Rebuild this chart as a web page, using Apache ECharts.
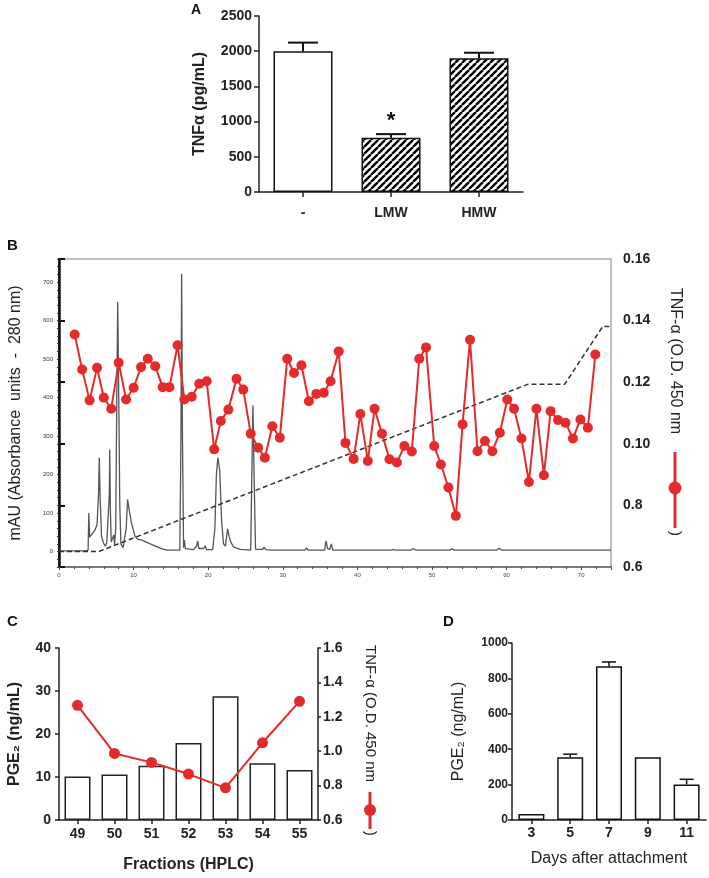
<!DOCTYPE html>
<html>
<head>
<meta charset="utf-8">
<script src="https://cdn.jsdelivr.net/npm/echarts@6/dist/echarts.min.js"></script>
<style>html,body{margin:0;padding:0;background:#fff;}#chart{width:709px;height:878px;}</style>
</head>
<body>
<div id="chart"></div>
<script>
// ---------- Panel A ----------
const panelACategories = ['-', 'LMW', 'HMW'];
const panelAValues = [2000, 770, 1900];
const panelAErrors = [122, 52, 78];
const panelASignificance = ['', '*', ''];

// ---------- Panel B ----------
const hplcTimes = [2.1,3.1,4.1,5.1,6.0,7.0,8.0,9.0,10.0,11.0,11.9,12.9,13.9,14.8,15.9,16.8,17.8,18.8,19.8,20.8,21.7,22.7,23.8,24.7,25.7,26.7,27.6,28.6,29.6,30.6,31.5,32.5,33.5,34.5,35.5,36.4,37.5,38.4,39.5,40.4,41.4,42.3,43.3,44.3,45.3,46.3,47.3,48.3,49.2,50.3,51.2,52.2,53.2,54.1,55.1,56.1,57.1,58.1,59.1,60.1,61.0,62.0,63.0,64.0,65.0,65.9,66.9,67.9,68.9,69.9,70.9,71.9];
const tnfOD = [0.1355,0.1241,0.1141,0.1247,0.115,0.1114,0.1263,0.1144,0.1182,0.1249,0.1276,0.1252,0.1184,0.1184,0.132,0.1144,0.1153,0.1195,0.1203,0.0982,0.1074,0.1111,0.1211,0.1176,0.1033,0.0987,0.0955,0.1057,0.102,0.1276,0.123,0.1255,0.1138,0.1162,0.1166,0.1203,0.13,0.1003,0.0951,0.1097,0.0944,0.1114,0.1033,0.095,0.0939,0.0993,0.0975,0.1276,0.1313,0.0993,0.0933,0.0858,0.0766,0.1063,0.1338,0.0976,0.1009,0.0976,0.1036,0.1144,0.1114,0.1017,0.0876,0.1114,0.0898,0.1106,0.1077,0.1068,0.1017,0.1079,0.1052,0.129];
const chromatogram = [[0,2],[3.6,2],[3.9,4],[4.0,100],[4.1,38],[4.4,45],[4.8,55],[5.1,70],[5.3,150],[5.4,244],[5.5,150],[5.7,40],[5.95,23],[6.2,14],[6.4,22],[6.6,18],[6.75,150],[6.8,265],[6.9,100],[7.0,25],[7.2,20],[7.35,43],[7.45,18],[7.6,60],[7.75,400],[7.87,648],[8.0,420],[8.15,120],[8.3,20],[8.6,10],[8.8,12],[9.0,60],[9.2,135],[9.4,110],[9.7,75],[10.2,39],[10.6,32],[11.1,30],[12.0,22],[13.1,13],[13.8,7],[14.5,4],[16.2,4],[16.35,300],[16.44,722],[16.55,300],[16.7,10],[16.8,30],[16.95,8],[18.0,5],[18.45,14],[18.6,28],[18.75,8],[19.4,8],[19.6,15],[19.8,5],[20.6,5],[20.9,60],[21.1,200],[21.3,244],[21.55,210],[21.8,80],[22.05,20],[22.3,14],[22.6,59],[22.8,40],[23.0,26],[23.2,26],[23.4,12],[24.0,8],[24.1,10],[24.3,6],[25.7,4],[25.85,200],[26.0,380],[26.15,200],[26.35,6],[27.3,6],[27.5,12],[27.7,5],[28.5,4],[33.0,4],[33.2,10],[33.4,4],[35.6,4],[35.8,28],[36.0,8],[36.3,6],[36.5,20],[36.7,4],[39.0,4],[39.2,6],[39.4,4],[44.5,4],[44.8,6],[45.1,4],[47.2,4],[47.5,8],[47.8,4],[52.4,4],[52.7,7],[53.0,4],[58.7,4],[59.0,9],[59.3,4],[74,4]];
const gradient = [[0,0],[5.3,0],[62.9,435],[67.8,435],[72.9,585],[74,585]];
const panelBRightTicks = {6:'0.6', 8:'0.8', 10:'0.10', 12:'0.12', 14:'0.14', 16:'0.16'};

// ---------- Panel C ----------
const fractions = ['49','50','51','52','53','54','55'];
const pge2Fractions = [10.1, 10.6, 12.6, 17.9, 28.8, 13.2, 11.6];
const tnfFractions = [1.267, 0.987, 0.935, 0.867, 0.787, 1.049, 1.29];

// ---------- Panel D ----------
const days = ['3','5','7','9','11'];
const pge2Days = [34, 354, 869, 354, 201];
const pge2DaysErr = [0, 18, 24, 0, 29];

const FONT = '"Liberation Sans", Arial, Helvetica, sans-serif';
const TXT = '#222';
const RED = '#e42a2a';

function makeHatch() {
  const s = 7;
  const c = document.createElement('canvas');
  c.width = s; c.height = s;
  const g = c.getContext('2d');
  g.fillStyle = '#fff'; g.fillRect(0, 0, s, s);
  g.strokeStyle = '#000'; g.lineWidth = 2.4;
  g.beginPath();
  [-s, 0, s].forEach(o => { g.moveTo(o, s); g.lineTo(o + s, 0); });
  g.stroke();
  return c;
}
const hatch = { image: makeHatch(), repeat: 'repeat' };

function errRenderer(halfCap, lw) {
  return function (params, api) {
    const err = api.value(2);
    if (!err) return null;
    const p0 = api.coord([api.value(0), api.value(1)]);
    const p1 = api.coord([api.value(0), api.value(1) + err]);
    const st = { stroke: '#111', lineWidth: lw };
    return {
      type: 'group',
      children: [
        { type: 'line', shape: { x1: p0[0], y1: p0[1], x2: p1[0], y2: p1[1] }, style: st },
        { type: 'line', shape: { x1: p1[0] - halfCap, y1: p1[1], x2: p1[0] + halfCap, y2: p1[1] }, style: st }
      ]
    };
  };
}

const plain = v => String(v);
const axisLineDark = { show: true, lineStyle: { color: '#222', width: 1.5 } };
const tickDark = (len) => ({ show: true, length: len, lineStyle: { color: '#222', width: 1.5 } });
const lbl = (size, margin, bold) => ({ fontFamily: FONT, fontSize: size, fontWeight: bold ? 'bold' : 'normal', color: TXT, margin: margin, formatter: plain });

const chart = echarts.init(document.getElementById('chart'), null, { renderer: 'canvas' });

const option = {
  animation: false,
  backgroundColor: '#fff',
  textStyle: { fontFamily: FONT },
  grid: [
    { left: 259, top: 16, width: 264, height: 176 },
    { left: 57, top: 259, width: 554, height: 308, show: true, borderColor: '#aaa', borderWidth: 1.5, backgroundColor: 'transparent' },
    { left: 59, top: 648, width: 259, height: 172 },
    { left: 512, top: 643, width: 194, height: 177 }
  ],
  xAxis: [
    { type: 'category', gridIndex: 0, data: panelACategories, axisLine: axisLineDark, axisTick: Object.assign(tickDark(5), { alignWithLabel: true }), axisLabel: lbl(14, 14, true), splitLine: { show: false } },
    { type: 'value', gridIndex: 1, min: 0, max: 74, interval: 10,
      axisLine: { show: true, onZero: false, lineStyle: { color: '#666', width: 1.5 } },
      axisTick: { show: true, length: 3, lineStyle: { color: '#444' } },
      minorTick: { show: true, splitNumber: 5, length: 2, lineStyle: { color: '#444' } },
      axisLabel: Object.assign(lbl(6, 5, false), { color: '#444', formatter: v => (v % 10 === 0 ? String(v) : '') }),
      splitLine: { show: false } },
    { type: 'category', gridIndex: 2, data: fractions, axisLine: axisLineDark, axisTick: Object.assign(tickDark(4), { alignWithLabel: true }), axisLabel: lbl(14, 7, true),
      name: 'Fractions (HPLC)', nameLocation: 'middle', nameGap: 37, nameTextStyle: { fontFamily: FONT, fontSize: 16, fontWeight: 'bold', color: TXT } },
    { type: 'category', gridIndex: 3, data: days, axisLine: axisLineDark, axisTick: Object.assign(tickDark(4), { alignWithLabel: true }), axisLabel: lbl(14, 6, true),
      name: 'Days after attachment', nameLocation: 'middle', nameGap: 31, nameTextStyle: { fontFamily: FONT, fontSize: 16, color: TXT } }
  ],
  yAxis: [
    { type: 'value', gridIndex: 0, min: 0, max: 2500, interval: 500, axisLine: axisLineDark, axisTick: tickDark(5), axisLabel: lbl(14, 7, true), splitLine: { show: false },
      name: 'TNFα (pg/mL)', nameLocation: 'middle', nameRotate: 90, nameGap: 51, nameTextStyle: { fontFamily: FONT, fontSize: 16, fontWeight: 'bold', color: TXT } },
    { type: 'value', gridIndex: 1, position: 'left', min: -40, max: 760, interval: 20,
      axisLine: { show: true, onZero: false, lineStyle: { color: '#111', width: 1.5 } },
      axisTick: { show: true, length: 2, lineStyle: { color: '#333' } },
      axisLabel: Object.assign(lbl(6, 6, false), { color: '#333', formatter: v => (v % 100 === 0 ? String(v) : '') }),
      splitLine: { show: false },
      name: 'mAU (Absorbance  units  -  280 nm)', nameLocation: 'middle', nameRotate: 90, nameGap: 35, nameTextStyle: { fontFamily: FONT, fontSize: 16, color: TXT } },
    { type: 'value', gridIndex: 1, position: 'right', min: 0.06, max: 0.16, interval: 0.02,
      axisLine: { show: true, lineStyle: { color: '#111', width: 2.5 } },
      axisTick: { show: true, length: 6, lineStyle: { color: '#111', width: 2 } },
      axisLabel: Object.assign(lbl(14, 12, true), { formatter: v => panelBRightTicks[Math.round(v * 100)] || '' }),
      splitLine: { show: false } },
    { type: 'value', gridIndex: 2, min: 0, max: 40, interval: 10, axisLine: axisLineDark, axisTick: tickDark(4), axisLabel: lbl(14, 8, true), splitLine: { show: false },
      name: 'PGE₂ (ng/mL)', nameLocation: 'middle', nameRotate: 90, nameGap: 36, nameTextStyle: { fontFamily: FONT, fontSize: 16, fontWeight: 'bold', color: TXT } },
    { type: 'value', gridIndex: 2, position: 'right', min: 0.6, max: 1.6, interval: 0.2, axisLine: axisLineDark, axisTick: tickDark(3),
      axisLabel: Object.assign(lbl(14, 5, true), { formatter: v => v.toFixed(1) }), splitLine: { show: false } },
    { type: 'value', gridIndex: 3, min: 0, max: 1000, interval: 200, axisLine: axisLineDark, axisTick: tickDark(4), axisLabel: lbl(12, 4, true), splitLine: { show: false },
      name: 'PGE₂ (ng/mL)', nameLocation: 'middle', nameRotate: 90, nameGap: 45, nameTextStyle: { fontFamily: FONT, fontSize: 16, color: TXT } }
  ],
  series: [
    { type: 'bar', xAxisIndex: 0, yAxisIndex: 0, barWidth: 59,
      itemStyle: { borderColor: '#111', borderWidth: 1.5 },
      data: panelAValues.map((v, i) => ({
        value: v,
        itemStyle: { color: i === 0 ? '#fff' : hatch, borderColor: '#111', borderWidth: 1.5 },
        label: { show: !!panelASignificance[i], position: 'top', distance: 6, formatter: panelASignificance[i] || '', fontSize: 22, fontWeight: 'bold', color: '#111', fontFamily: FONT }
      })) },
    { type: 'custom', xAxisIndex: 0, yAxisIndex: 0, renderItem: errRenderer(15, 2), z: 3,
      data: panelAValues.map((v, i) => [i, v, panelAErrors[i]]) },

    { type: 'line', xAxisIndex: 1, yAxisIndex: 1, data: chromatogram, symbol: 'none', lineStyle: { color: '#555', width: 1.3 }, z: 2 },
    { type: 'line', xAxisIndex: 1, yAxisIndex: 1, data: gradient, symbol: 'none', lineStyle: { color: '#333', width: 1.5, type: [5, 3] }, z: 2 },
    { type: 'line', xAxisIndex: 1, yAxisIndex: 2, data: hplcTimes.map((t, i) => [t, tnfOD[i]]), symbol: 'circle', symbolSize: 10,
      itemStyle: { color: RED }, lineStyle: { color: RED, width: 2 }, z: 4 },

    { type: 'bar', xAxisIndex: 2, yAxisIndex: 3, barWidth: 26, data: pge2Fractions, itemStyle: { color: '#fff', borderColor: '#222', borderWidth: 1.5 } },
    { type: 'line', xAxisIndex: 2, yAxisIndex: 4, data: tnfFractions, symbol: 'circle', symbolSize: 11, itemStyle: { color: RED }, lineStyle: { color: RED, width: 2 }, z: 4 },

    { type: 'bar', xAxisIndex: 3, yAxisIndex: 5, barWidth: 26, data: pge2Days, itemStyle: { color: '#fff', borderColor: '#111', borderWidth: 1.5 } },
    { type: 'custom', xAxisIndex: 3, yAxisIndex: 5, renderItem: errRenderer(7, 1.5), z: 3,
      data: pge2Days.map((v, i) => [i, v, pge2DaysErr[i]]) }
  ],
  graphic: [
    { type: 'text', left: 191, top: 3, style: { text: 'A', font: 'bold 14px ' + FONT, fill: '#111' } },
    { type: 'text', left: 7, top: 238, style: { text: 'B', font: 'bold 15px ' + FONT, fill: '#111' } },
    { type: 'text', left: 7, top: 614, style: { text: 'C', font: 'bold 15px ' + FONT, fill: '#111' } },
    { type: 'text', left: 443, top: 614, style: { text: 'D', font: 'bold 15px ' + FONT, fill: '#111' } },

    { type: 'text', x: 675, y: 288, rotation: -Math.PI / 2, style: { text: 'TNF-α (O.D. 450 nm', font: '16px ' + FONT, fill: TXT, align: 'left', verticalAlign: 'middle' } },
    { type: 'line', shape: { x1: 675, y1: 452, x2: 675, y2: 528 }, style: { stroke: RED, lineWidth: 3 } },
    { type: 'circle', shape: { cx: 675, cy: 488, r: 6.5 }, style: { fill: RED } },
    { type: 'text', x: 675, y: 531, rotation: -Math.PI / 2, style: { text: ')', font: '15px ' + FONT, fill: TXT, align: 'left', verticalAlign: 'middle' } },

    { type: 'text', x: 370, y: 645, rotation: -Math.PI / 2, style: { text: 'TNF-α (O.D. 450 nm', font: '15px ' + FONT, fill: TXT, align: 'left', verticalAlign: 'middle' } },
    { type: 'line', shape: { x1: 370, y1: 792, x2: 370, y2: 829 }, style: { stroke: RED, lineWidth: 3 } },
    { type: 'circle', shape: { cx: 370, cy: 810, r: 6 }, style: { fill: RED } },
    { type: 'text', x: 370, y: 831, rotation: -Math.PI / 2, style: { text: ')', font: '14px ' + FONT, fill: TXT, align: 'left', verticalAlign: 'middle' } }
  ]
};
chart.setOption(option);
</script>
</body>
</html>
